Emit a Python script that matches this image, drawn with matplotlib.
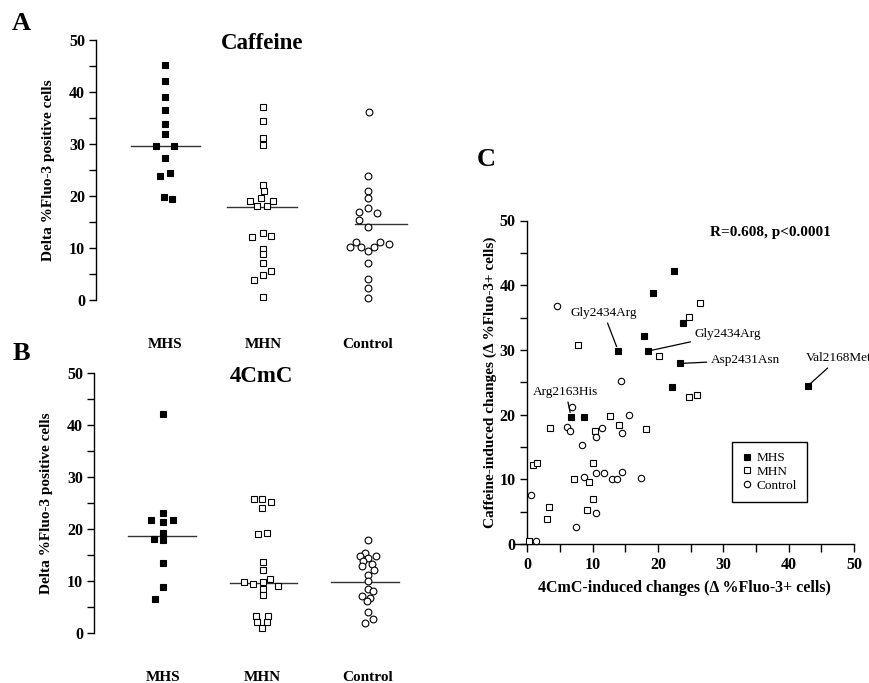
import matplotlib
matplotlib.use("Agg")
import matplotlib.pyplot as plt
from matplotlib.ticker import MultipleLocator

plt.rcParams['font.family'] = ['Liberation Serif', 'DejaVu Serif']
plt.rcParams['font.weight'] = 'bold'

# ---------------- data ----------------
groups = ['MHS', 'MHN', 'Control']

# Panel A (Caffeine)
caf_mhs = [45.1, 42.1, 39.0, 36.6, 33.8, 31.9, 29.7, 29.7, 27.4, 23.8, 24.4, 19.9, 19.4]
caf_mhs_jit = [0, 0, 0, 0, 0, 0, -0.088, 0.088, 0, -0.048, 0.048, -0.007, 0.075]
caf_mhn = [37.2, 34.5, 31.2, 29.9, 22.2, 21.0, 19.7, 19.0, 19.0, 18.0, 18.0, 12.8, 12.1, 12.3,
           9.9, 8.8, 7.1, 5.6, 4.8, 3.8, 0.6]
caf_mhn_jit = [0, 0, 0, 0, 0, 0.007, -0.024, -0.136, 0.102, -0.058, 0.041, 0, -0.116, 0.085,
               0, 0, 0, 0.078, 0, -0.088, 0]
caf_ctl = [36.1, 23.8, 21.0, 19.7, 17.6, 16.9, 16.7, 15.4, 14.1, 11.2, 11.2, 10.2, 10.2, 10.7,
           9.5, 10.2, 7.2, 4.0, 2.3, 0.3]
caf_ctl_jit = [0.007, 0, 0, 0, 0, -0.095, 0.092, -0.095, 0, -0.122, 0.126, -0.187, -0.068, 0.211,
               0, 0.058, 0, 0, 0, 0]
caf_medians = [29.7, 17.9, 14.7]

# Panel B (4CmC)
cmc_mhs = [42.2, 23.1, 21.8, 21.8, 21.3, 19.3, 18.0, 17.8, 13.5, 8.8, 6.6]
cmc_mhs_jit = [0, 0, -0.126, 0.102, 0, 0, -0.099, 0, 0, 0, -0.088]
cmc_mhn = [25.8, 25.7, 25.2, 24.1, 19.0, 19.3, 13.6, 12.1, 9.9, 9.4, 9.9, 10.4, 9.1, 8.5, 7.4,
           3.3, 3.3, 2.1, 2.1, 0.9]
cmc_mhn_jit = [-0.082, 0, 0.095, 0, -0.041, 0.048, 0.01, 0.01, -0.18, -0.092, 0.01, 0.085, 0.163,
               0.01, 0.01, -0.065, 0.061, -0.051, 0.054, 0]
cmc_ctl = [17.8, 15.4, 14.9, 14.9, 14.4, 13.8, 13.3, 12.8, 12.1, 11.1, 10.0, 8.5, 8.1, 7.1, 6.8,
           6.2, 4.0, 1.9, 2.6]
cmc_ctl_jit = [0.007, -0.027, -0.078, 0.082, 0, -0.044, 0.041, -0.054, 0.065, 0, 0, 0, 0.054,
               -0.054, 0.02, -0.01, 0, -0.027, 0.054]
cmc_medians = [18.6, 9.7, 9.9]

# Panel C (4CmC vs Caffeine)
c_mhs_x = [22.4, 19.3, 23.9, 17.8, 13.9, 18.4, 23.3, 22.2, 42.9, 6.7, 8.7]
c_mhs_y = [42.2, 38.8, 34.2, 32.2, 29.9, 29.8, 27.9, 24.2, 24.4, 19.7, 19.7]
c_mhn_x = [26.5, 24.7, 7.8, 20.1, 24.8, 26.0, 12.7, 14.0, 18.2, 3.5, 10.3, 0.9, 1.5, 10.1, 7.2,
           9.4, 10.1, 3.4, 9.2, 3.0, 0.3]
c_mhn_y = [37.3, 35.1, 30.7, 29.1, 22.7, 23.0, 19.8, 18.4, 17.7, 18.0, 17.4, 12.2, 12.5, 12.5,
           10.0, 9.6, 7.0, 5.7, 5.2, 3.8, 0.5]
c_ctl_x = [4.5, 14.3, 6.9, 15.5, 6.1, 6.5, 11.5, 14.5, 10.5, 8.3, 10.5, 11.7, 14.5, 8.7, 12.9,
           13.7, 17.4, 10.5, 0.5, 7.5, 1.3]
c_ctl_y = [36.8, 25.2, 21.1, 19.9, 18.1, 17.5, 17.9, 17.2, 16.6, 15.3, 11.0, 11.0, 11.2, 10.4,
           10.1, 10.1, 10.2, 4.8, 7.5, 2.6, 0.5]
annot_labels = ['Gly2434Arg', 'Gly2434Arg', 'Asp2431Asn', 'Val2168Met', 'Arg2163His']
annot_idx = [4, 5, 6, 8, 9]          # index into MHS points of panel C
stat_text = 'R=0.608, p<0.0001'

# ---------------- layout ----------------
W, H = 870, 683
fig = plt.figure(figsize=(W / 100, H / 100), dpi=100)


def ax_px(x0, x1, ytop, ybot):
    return fig.add_axes([x0 / W, 1 - ybot / H, (x1 - x0) / W, (ybot - ytop) / H])


cat_pos = [1.0, 2.0, 3.07]
styles = [dict(marker='s', mfc='black', mec='black', ms=4.8, mew=0.8),
          dict(marker='s', mfc='white', mec='black', ms=4.6, mew=0.8),
          dict(marker='o', mfc='white', mec='black', ms=4.9, mew=0.8)]


def dot_panel(ax, series, jitters, medians, med_ext, title):
    for i, (vals, jit) in enumerate(zip(series, jitters)):
        xs = [cat_pos[i] + j for j in jit]
        ax.plot(xs, vals, ls='none', clip_on=False, zorder=3, **styles[i])
        lo, hi = med_ext[i]
        ax.plot([cat_pos[i] + lo, cat_pos[i] + hi], [medians[i], medians[i]],
                color='#333333', lw=1.0, zorder=2)
    ax.set_xlim(0.296, 3.5)
    ax.set_ylim(0, 50)
    for s in ['top', 'right', 'bottom']:
        ax.spines[s].set_visible(False)
    ax.spines['left'].set_linewidth(1.0)
    ax.set_xticks([])
    ax.yaxis.set_major_locator(MultipleLocator(10))
    ax.yaxis.set_minor_locator(MultipleLocator(5))
    ax.tick_params(axis='y', which='both', direction='out', length=5, width=1, pad=3)
    ax.tick_params(axis='y', labelsize=11.5)
    for lbl in ax.get_yticklabels():
        lbl.set_fontweight('bold')
    ax.set_ylabel('Delta %Fluo-3 positive cells', fontsize=11, fontweight='bold', labelpad=10)
    ax.text(0.53, 0.985, title, transform=ax.transAxes, ha='center', va='center',
            fontsize=16.5, fontweight='bold')
    for i, g in enumerate(groups):
        ax.text(cat_pos[i], -8.5, g, ha='center', va='center', fontsize=11,
                fontweight='bold', clip_on=False)


axA = ax_px(96, 410, 40, 300)
dot_panel(axA, [caf_mhs, caf_mhn, caf_ctl], [caf_mhs_jit, caf_mhn_jit, caf_ctl_jit],
          caf_medians, [(-0.35, 0.36), (-0.37, 0.35), (-0.13, 0.40)], 'Caffeine')

axB = ax_px(94, 410, 373, 633)
dot_panel(axB, [cmc_mhs, cmc_mhn, cmc_ctl], [cmc_mhs_jit, cmc_mhn_jit, cmc_ctl_jit],
          cmc_medians, [(-0.36, 0.33), (-0.32, 0.35), (-0.37, 0.32)], '4CmC')

fig.text(21 / W, 1 - 23 / H, 'A', fontsize=19, fontweight='bold', ha='center', va='center')
fig.text(21 / W, 1 - 353 / H, 'B', fontsize=19, fontweight='bold', ha='center', va='center')
fig.text(486 / W, 1 - 160 / H, 'C', fontsize=19, fontweight='bold', ha='center', va='center')

# Panel C
axC = ax_px(515.5, 854, 220.5, 544)
axC.set_xlim(-1.8, 50)
axC.set_ylim(0, 50)
axC.plot(c_mhs_x, c_mhs_y, ls='none', clip_on=False, zorder=3, label='MHS', **styles[0])
axC.plot(c_mhn_x, c_mhn_y, ls='none', clip_on=False, zorder=3, label='MHN', **styles[1])
axC.plot(c_ctl_x, c_ctl_y, ls='none', clip_on=False, zorder=3, label='Control',
         marker='o', mfc='white', mec='black', ms=4.6, mew=0.8)
for s in ['top', 'right']:
    axC.spines[s].set_visible(False)
axC.spines['left'].set_position(('data', 0))
axC.spines['left'].set_linewidth(1.0)
axC.spines['bottom'].set_linewidth(1.0)
axC.xaxis.set_minor_locator(MultipleLocator(5))
axC.yaxis.set_major_locator(MultipleLocator(10))
axC.yaxis.set_minor_locator(MultipleLocator(5))
axC.set_xticks([0, 10, 20, 30, 40, 50])
axC.tick_params(which='both', direction='out', length=6, width=1, labelsize=11.5)
axC.tick_params(axis='y', which='both', length=5)
for lbl in axC.get_xticklabels() + axC.get_yticklabels():
    lbl.set_fontweight('bold')
axC.set_xlabel('4CmC-induced changes (\u0394 %Fluo-3+ cells)', fontsize=11.5,
               fontweight='bold', labelpad=5)
axC.set_ylabel('Caffeine-induced changes (\u0394 %Fluo-3+ cells)', fontsize=11,
               fontweight='bold', labelpad=2)
axC.text(37.2, 48.1, stat_text, ha='center', va='center', fontsize=11, fontweight='bold')

text_pos = [(11.7, 35.7), (30.7, 32.5), (33.4, 28.4), (47.6, 28.7), (5.9, 23.5)]
for lab, idx, (tx, ty) in zip(annot_labels, annot_idx, text_pos):
    axC.annotate(lab, xy=(c_mhs_x[idx], c_mhs_y[idx]), xytext=(tx, ty),
                 ha='center', va='center', fontsize=9.5, fontweight='normal',
                 annotation_clip=False,
                 arrowprops=dict(arrowstyle='-', color='black', lw=0.9,
                                 shrinkA=1, shrinkB=3))

leg = axC.legend(loc='upper left', bbox_to_anchor=(732 / W, 1 - 442 / H),
                 bbox_transform=fig.transFigure, frameon=True, fancybox=False,
                 edgecolor='black', framealpha=1, fontsize=9.5, handlelength=0.7,
                 handletextpad=0.4, borderpad=0.75, labelspacing=0.12, borderaxespad=0)
leg.get_frame().set_linewidth(1.0)
for t in leg.get_texts():
    t.set_fontweight('normal')

fig.savefig('out.png', dpi=100, facecolor='white')
